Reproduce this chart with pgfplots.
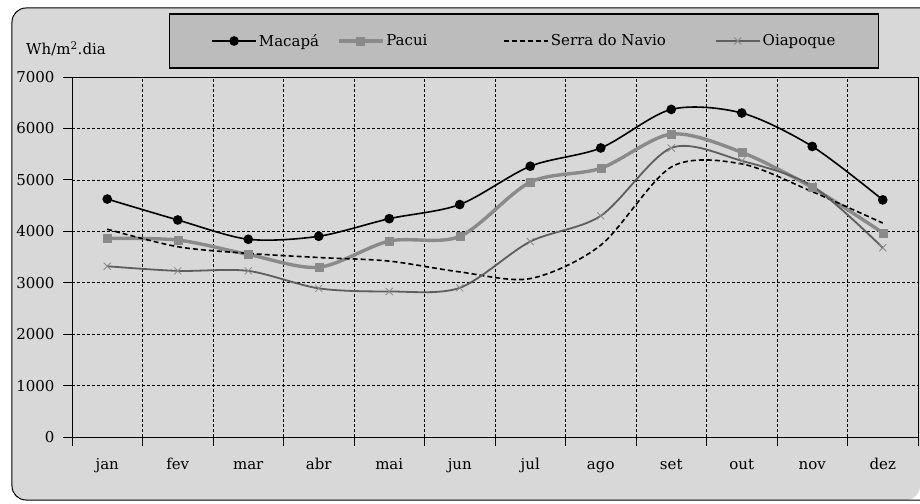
\documentclass[border=0pt]{standalone}
\usepackage{pgfplots}
\pgfplotsset{compat=1.18}
\usepackage{fontspec}
\setmainfont{DejaVu Serif}
\definecolor{bgc}{HTML}{D8D8D8}
\definecolor{legc}{HTML}{BCBCBC}
\definecolor{pacui}{HTML}{8A8A8A}
\definecolor{oiap}{HTML}{5E5E5E}
\newcommand{\fs}{\fontsize{15}{17}\selectfont}
\begin{document}
\begin{tikzpicture}[x=1pt,y=1pt]
\useasboundingbox (-72,-66) rectangle (848,437);
\fill[white] (-72,-66) rectangle (848,437);
\fill[bgc, rounded corners=14pt] (848,429) -- (-60,429) -- (-60,-63) -- (848,-63) [sharp corners] -- cycle;
\draw[line width=1pt, rounded corners=14pt] (848,429) -- (-60,429) -- (-60,-63) -- (848,-63);
\node[anchor=west, font=\fs, inner sep=0pt] at (-46,388) {Wh/m\textsuperscript{2}.dia};
\begin{axis}[
  at={(0,0)}, anchor=south west,
  scale only axis, width=846pt, height=360pt,
  xmin=0.5, xmax=12.5, ymin=0, ymax=7000,
  xtick={1,...,12},
  xticklabels={jan,fev,mar,abr,mai,jun,jul,ago,set,out,nov,dez},
  minor xtick={0.5,1.5,...,12.5},
  ytick={0,1000,...,7000},
  major x tick style={draw=none},
  minor x tick style={black, line width=0.8pt},
  major tick length=9pt, minor tick length=9pt,
  tick align=outside, tick pos=left,
  ymajorgrids, xminorgrids,
  major grid style={black, line width=0.7pt, dash pattern=on 3pt off 2pt},
  minor grid style={black, line width=0.7pt, dash pattern=on 3pt off 2pt},
  y tick style={black, line width=0.8pt},
  axis line style={black, line width=0.9pt},
  yticklabel style={font=\fs, xshift=-5pt},
  xticklabel style={font=\fs, anchor=base, yshift=-23pt},
  /pgf/number format/assume math mode=true,
  /pgf/number format/1000 sep={},
  legend columns=4,
  legend style={at={(452pt,396pt)}, anchor=center, fill=legc, draw=black, line width=1.2pt,
    font=\fs, inner xsep=42pt, inner ysep=6pt,
    minimum height=42pt, text depth=2pt},
  legend cell align=left,
  legend image code/.code={\draw[mark repeat=2,mark phase=2,#1] plot coordinates {(0pt,0pt) (22pt,0pt) (44pt,0pt)};},
]
\addplot[black, line width=1.6pt, smooth, tension=0.5, mark=*, mark size=4pt, mark options={solid}]
 coordinates {(1,4627)(2,4220)(3,3845)(4,3903)(5,4245)(6,4520)(7,5265)(8,5620)(9,6370)(10,6300)(11,5650)(12,4610)};
\addlegendentry{\makebox[76pt][l]{Macapá}}
\addplot[pacui, line width=3.4pt, smooth, tension=0.5, mark=square*, mark size=4pt, mark options={solid, line width=0.5pt}]
 coordinates {(1,3860)(2,3830)(3,3550)(4,3300)(5,3810)(6,3900)(7,4955)(8,5225)(9,5890)(10,5535)(11,4850)(12,3970)};
\addlegendentry{\makebox[115pt][l]{Pacui}}
\addplot[black, line width=1.6pt, smooth, tension=0.5, dash pattern=on 5pt off 3pt]
 coordinates {(1,4040)(2,3700)(3,3570)(4,3490)(5,3420)(6,3210)(7,3080)(8,3730)(9,5250)(10,5310)(11,4770)(12,4160)};
\addlegendentry{\makebox[162pt][l]{Serra do Navio}}
\addplot[oiap, line width=1.8pt, smooth, tension=0.5, mark=x, mark size=5pt, mark options={solid, pacui, line width=0.8pt}]
 coordinates {(1,3320)(2,3230)(3,3230)(4,2890)(5,2830)(6,2900)(7,3800)(8,4300)(9,5620)(10,5370)(11,4880)(12,3680)};
\addlegendentry{\makebox[72pt][l]{Oiapoque}}
\end{axis}
\end{tikzpicture}
\end{document}
